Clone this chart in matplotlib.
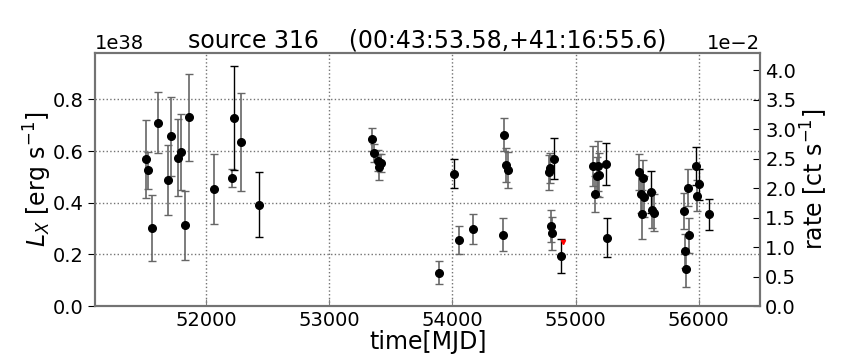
import numpy as np
import matplotlib
matplotlib.use("Agg")
import matplotlib.pyplot as plt
from matplotlib.ticker import ScalarFormatter

# grey-bar measurements (MJD, L_X in 1e38 erg/s, symmetric error)
mjd_a = [51510, 51531, 51559, 51608, 51689, 51713, 51770, 51797, 51830, 51862,
         52068, 52212, 52287, 53344, 53366, 53393, 53404, 53420, 53892, 54055,
         54171, 54413, 54423, 54437, 54456, 54781, 54792, 54800, 54808, 55144,
         55155, 55171, 55179, 55190, 55518, 55529, 55540, 55545, 55556, 55620,
         55634, 55881, 55892, 55900, 55911, 55922, 55990]
lx_a = [0.570, 0.525, 0.303, 0.709, 0.487, 0.658, 0.575, 0.598, 0.312, 0.730,
        0.453, 0.496, 0.636, 0.646, 0.593, 0.562, 0.538, 0.553, 0.129, 0.255,
        0.299, 0.276, 0.663, 0.545, 0.526, 0.518, 0.534, 0.309, 0.281, 0.543,
        0.433, 0.502, 0.543, 0.509, 0.520, 0.434, 0.356, 0.495, 0.423, 0.371,
        0.362, 0.369, 0.212, 0.142, 0.458, 0.273, 0.426]
err_a = [0.150, 0.073, 0.128, 0.118, 0.135, 0.153, 0.149, 0.147, 0.135, 0.168,
         0.134, 0.034, 0.189, 0.045, 0.036, 0.041, 0.049, 0.036, 0.045, 0.053,
         0.059, 0.064, 0.064, 0.066, 0.069, 0.068, 0.058, 0.062, 0.063, 0.077,
         0.070, 0.075, 0.096, 0.085, 0.070, 0.072, 0.095, 0.070, 0.080, 0.070,
         0.070, 0.070, 0.065, 0.069, 0.072, 0.066, 0.060]

# black-bar measurements
mjd_b = [52231, 52429, 54011, 54822, 54881, 55246, 55258, 55616, 55978, 56005, 56087]
lx_b = [0.728, 0.393, 0.512, 0.571, 0.195, 0.549, 0.264, 0.442, 0.542, 0.472, 0.356]
err_b = [0.200, 0.127, 0.056, 0.080, 0.066, 0.082, 0.075, 0.080, 0.072, 0.060, 0.060]

# red upper-limit marker
mjd_r = [54895]
lx_r = [0.248]

l_ticks = [0.0, 0.2, 0.4, 0.6, 0.8]
r_ticks = [0.0, 0.5, 1.0, 1.5, 2.0, 2.5, 3.0, 3.5, 4.0]


class FixedOrder(ScalarFormatter):
    def __init__(self, order):
        self._order = order
        super().__init__()

    def _set_order_of_magnitude(self):
        self.orderOfMagnitude = self._order


scale = 1e38
fig = plt.figure(figsize=(8.64, 3.6), dpi=100)
ax = fig.add_axes([0.110, 0.150, 0.770, 0.703])

ax.errorbar(mjd_a, np.array(lx_a) * scale, yerr=np.array(err_a) * scale, fmt='o',
            color='black', ms=5.5, ecolor='0.4', elinewidth=1.2, capsize=3, capthick=1)
ax.errorbar(mjd_b, np.array(lx_b) * scale, yerr=np.array(err_b) * scale, fmt='o',
            color='black', ms=5.5, ecolor='black', elinewidth=1.0, capsize=3, capthick=1)
ax.plot(mjd_r, np.array(lx_r) * scale, 'v', color='red', ms=3)

ax.set_xlim(51100, 56500)
ax.set_ylim(0, 0.98e38)
ax.set_xticks([52000, 53000, 54000, 55000, 56000])
ax.set_yticks(np.array(l_ticks) * scale)
ax.yaxis.set_major_formatter(FixedOrder(38))
ax.grid(True, linestyle=':', color='0.45', linewidth=1)
ax.tick_params(axis='x', direction='in', labelsize=14, color='0.5', length=5)
ax.tick_params(axis='y', direction='out', labelsize=14, length=5)
ax.yaxis.get_offset_text().set_fontsize(14)
ax.set_xlabel('time[MJD]', fontsize=17, labelpad=0)
ax.set_ylabel(r'$L_X$ [erg s$^{-1}$]', fontsize=17, labelpad=-1)
ax.set_title('source 316    (00:43:53.58,+41:16:55.6)', fontsize=17, pad=3)
for s in ax.spines.values():
    s.set_color('0.45')
    s.set_linewidth(1.5)

ax2 = ax.twinx()
ax2.set_ylim(0, 4.29e-2)
ax2.set_yticks(np.array(r_ticks) * 1e-2)
ax2.yaxis.set_major_formatter(FixedOrder(-2))
ax2.tick_params(direction='in', labelsize=14, length=5)
ax2.yaxis.get_offset_text().set_fontsize(14)
ax2.set_ylabel(r'rate [ct s$^{-1}$]', fontsize=17, labelpad=2)
for s in ax2.spines.values():
    s.set_color('0.45')
    s.set_linewidth(1.5)

fig.savefig('out.png', dpi=100)
